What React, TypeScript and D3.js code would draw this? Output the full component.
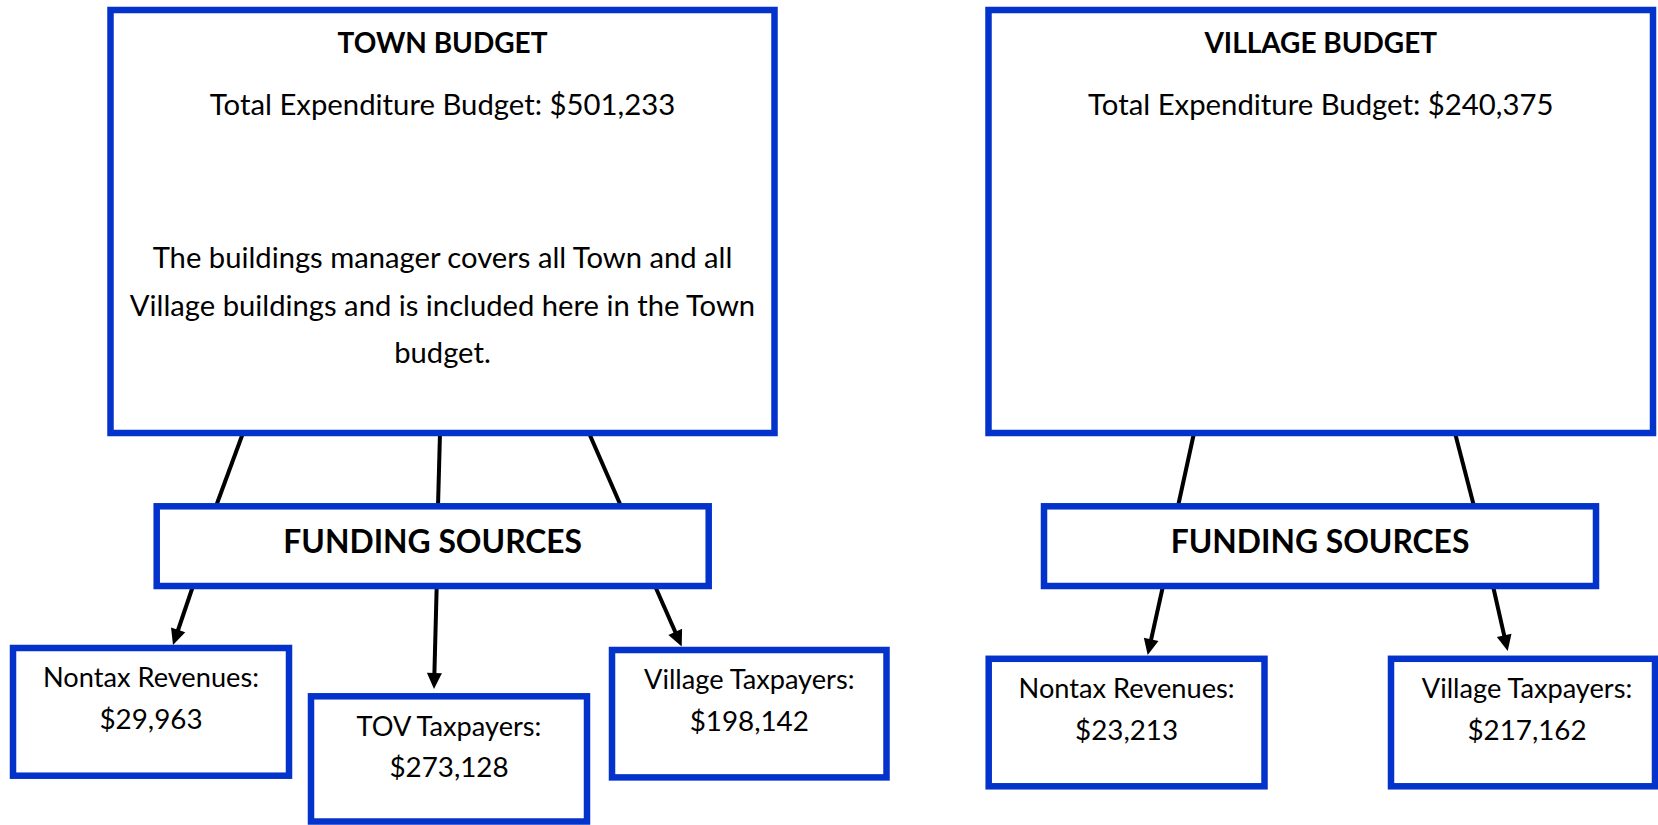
import React from 'react';
import * as d3 from 'd3';

// values
const budgetNames = ['TOWN BUDGET', 'VILLAGE BUDGET'];
const budgetTotals = [501233, 240375];
const townNote = [
  'The buildings manager covers all Town and all',
  'Village buildings and is included here in the Town',
  'budget.',
];
const townSources = ['Nontax Revenues:', 'TOV Taxpayers:', 'Village Taxpayers:'];
const townAmounts = [29963, 273128, 198142];
const villageSources = ['Nontax Revenues:', 'Village Taxpayers:'];
const villageAmounts = [23213, 217162];
const fundingLabel = 'FUNDING SOURCES';

const W = 1658;
const H = 825;
const BLUE = '#0433cc';
const FONT = 'Lato, "Open Sans", sans-serif';
const money = d3.format('$,');

// layout (box stroke centres)
const layout = [
  {
    main: { x: 110.5, y: 10, w: 664, h: 423 },
    fund: { x: 156.7, y: 506.3, w: 552, h: 79.7 },
    links: [[243, 216], [440, 438], [589, 621]],
    leaves: [
      { x: 13, y: 648, w: 276, h: 127.7, from: 193, tip: [173, 645] },
      { x: 311, y: 696.3, w: 276, h: 125.2, from: 436.7, tip: [434, 689] },
      { x: 612, y: 650, w: 274.5, h: 127.4, from: 655, tip: [681.7, 646.5] },
    ],
  },
  {
    main: { x: 988.5, y: 10, w: 664.5, h: 423 },
    fund: { x: 1044, y: 506.3, w: 552, h: 79.7 },
    links: [[1194, 1178], [1455, 1474]],
    leaves: [
      { x: 988.7, y: 658.8, w: 275.8, h: 127.5, from: 1163, tip: [1147.7, 655] },
      { x: 1391, y: 658.8, w: 264, h: 127.5, from: 1493, tip: [1507.7, 651], tx: 1527 },
    ],
  },
];

const line = d3.line();

function Arrow({ x0, y0, x1, y1 }) {
  const len = Math.hypot(x1 - x0, y1 - y0);
  const ux = (x1 - x0) / len;
  const uy = (y1 - y0) / len;
  const hl = 16;
  const hw = 7.5;
  const bx = x1 - ux * hl;
  const by = y1 - uy * hl;
  const head = [
    [x1, y1],
    [bx - uy * hw, by + ux * hw],
    [bx + uy * hw, by - ux * hw],
  ];
  return (
    <g>
      <path d={line([[x0, y0], [bx + ux * 2, by + uy * 2]])} stroke="#000" strokeWidth={4} fill="none" />
      <path d={line(head) + 'Z'} fill="#000" />
    </g>
  );
}

function Box({ b }) {
  return <rect x={b.x} y={b.y} width={b.w} height={b.h} fill="#fff" stroke={BLUE} strokeWidth={6.5} />;
}

function Panel({ i }) {
  const L = layout[i];
  const sources = i === 0 ? townSources : villageSources;
  const amounts = i === 0 ? townAmounts : villageAmounts;
  const cx = L.main.x + L.main.w / 2;
  const fcx = L.fund.x + L.fund.w / 2;
  const mainBottom = L.main.y + L.main.h;
  const fundBottom = L.fund.y + L.fund.h;
  return (
    <g>
      {L.links.map(([a, b], k) => (
        <path key={k} d={line([[a, mainBottom], [b, L.fund.y]])} stroke="#000" strokeWidth={4} fill="none" />
      ))}
      {L.leaves.map((lf, k) => (
        <Arrow key={k} x0={lf.from} y0={fundBottom} x1={lf.tip[0]} y1={lf.tip[1]} />
      ))}
      <Box b={L.main} />
      <Box b={L.fund} />
      <text x={cx} y={52.5} textAnchor="middle" fontFamily={FONT} fontWeight={700} fontSize={28}>
        {budgetNames[i]}
      </text>
      <text x={cx} y={114.5} textAnchor="middle" fontFamily={FONT} fontSize={29.3}>
        {'Total Expenditure Budget: ' + money(budgetTotals[i])}
      </text>
      {i === 0 &&
        townNote.map((t, k) => (
          <text key={k} x={cx} y={268 + k * 47.5} textAnchor="middle" fontFamily={FONT} fontSize={29.2}>
            {t}
          </text>
        ))}
      <text x={fcx} y={553.3} textAnchor="middle" fontFamily={FONT} fontWeight={700} fontSize={31.8}>
        {fundingLabel}
      </text>
      {L.leaves.map((lf, k) => {
        const tx = lf.tx ?? lf.x + lf.w / 2;
        return (
          <g key={k}>
            <Box b={lf} />
            <text x={tx} y={lf.y + 39.3} textAnchor="middle" fontFamily={FONT} fontSize={27.2}>
              {sources[k]}
            </text>
            <text x={tx} y={lf.y + 81} textAnchor="middle" fontFamily={FONT} fontSize={27.8}>
              {money(amounts[k])}
            </text>
          </g>
        );
      })}
    </g>
  );
}

export default function App() {
  return (
    <svg
      width={W}
      height={H}
      viewBox={`0 0 ${W} ${H}`}
      style={{ position: 'absolute', left: 0, top: 0, background: '#fff' }}
    >
      <rect width={W} height={H} fill="#fff" />
      <Panel i={0} />
      <Panel i={1} />
    </svg>
  );
}
